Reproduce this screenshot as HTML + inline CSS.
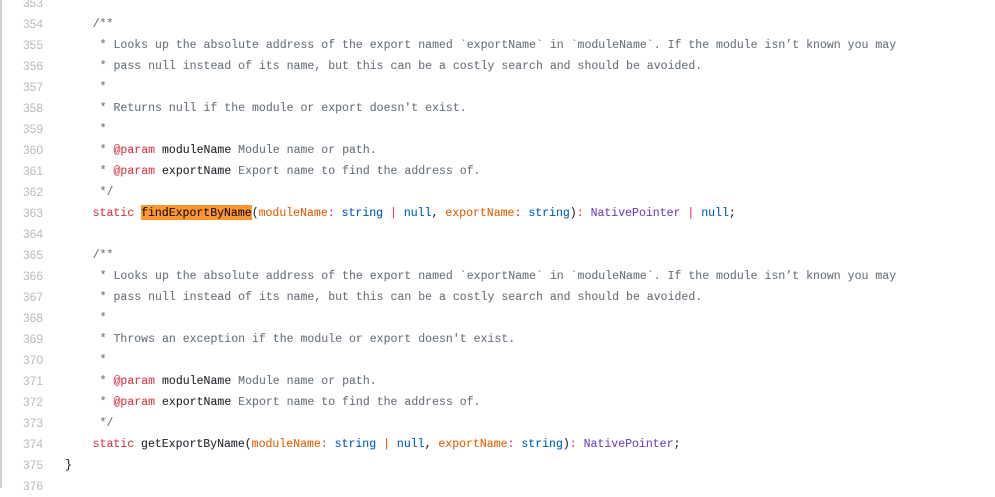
<!DOCTYPE html>
<html lang="en">
<head>
<meta charset="utf-8">
<title>Source listing</title>
<style>
html,body{margin:0;padding:0;background:#fff;}
body{width:995px;height:488px;overflow:hidden;position:relative;}
.bar{position:absolute;left:0;top:0;width:1.5px;height:488px;background:#d0d0d8;}
.n,.l{position:absolute;height:21px;line-height:21px;white-space:pre;margin-top:1px;}
.n{left:23px;font:12px/21px "Liberation Sans",sans-serif;color:#bbb;}
.l{left:65px;font:11.5px/21px "Liberation Mono",monospace;letter-spacing:.025px;color:#24292e;-webkit-text-stroke:.1px currentColor;}
.l.code{letter-spacing:.012px;}
.c{color:#6a737d}.k{color:#d73a49}.p{color:#e36209}.t{color:#005cc5}.v{color:#6f42c1}
.h{background:#ff9632;color:#111;display:inline-block;height:15px;line-height:17px;vertical-align:top;margin-top:2px;}
</style>
</head>
<body>
<div class="bar"></div>
<div class="n" style="top:-8px">353</div>
<div class="n" style="top:13px">354</div>
<div class="n" style="top:34px">355</div>
<div class="n" style="top:55px">356</div>
<div class="n" style="top:76px">357</div>
<div class="n" style="top:97px">358</div>
<div class="n" style="top:118px">359</div>
<div class="n" style="top:139px">360</div>
<div class="n" style="top:160px">361</div>
<div class="n" style="top:181px">362</div>
<div class="n" style="top:202px">363</div>
<div class="n" style="top:223px">364</div>
<div class="n" style="top:244px">365</div>
<div class="n" style="top:265px">366</div>
<div class="n" style="top:286px">367</div>
<div class="n" style="top:307px">368</div>
<div class="n" style="top:328px">369</div>
<div class="n" style="top:349px">370</div>
<div class="n" style="top:370px">371</div>
<div class="n" style="top:391px">372</div>
<div class="n" style="top:412px">373</div>
<div class="n" style="top:433px">374</div>
<div class="n" style="top:454px">375</div>
<div class="n" style="top:475px">376</div>

<div class="l c" style="top:13px">    /**</div>
<div class="l c" style="top:34px">     * Looks up the absolute address of the export named `exportName` in `moduleName`. If the module isn’t known you may</div>
<div class="l c" style="top:55px">     * pass null instead of its name, but this can be a costly search and should be avoided.</div>
<div class="l c" style="top:76px">     *</div>
<div class="l c" style="top:97px">     * Returns null if the module or export doesn't exist.</div>
<div class="l c" style="top:118px">     *</div>
<div class="l c" style="top:139px">     * <span class="k">@param</span> <span style="color:#24292e">moduleName</span> Module name or path.</div>
<div class="l c" style="top:160px">     * <span class="k">@param</span> <span style="color:#24292e">exportName</span> Export name to find the address of.</div>
<div class="l c" style="top:181px">     */</div>
<div class="l code" style="top:202px">    <span class="k">static</span> <span class="h">findExportByName</span>(<span class="p">moduleName</span><span class="k">:</span> <span class="t">string</span> <span class="k">|</span> <span class="t">null</span>, <span class="p">exportName</span><span class="k">:</span> <span class="t">string</span>)<span class="k">:</span> <span class="v">NativePointer</span> <span class="k">|</span> <span class="t">null</span>;</div>

<div class="l c" style="top:244px">    /**</div>
<div class="l c" style="top:265px">     * Looks up the absolute address of the export named `exportName` in `moduleName`. If the module isn’t known you may</div>
<div class="l c" style="top:286px">     * pass null instead of its name, but this can be a costly search and should be avoided.</div>
<div class="l c" style="top:307px">     *</div>
<div class="l c" style="top:328px">     * Throws an exception if the module or export doesn't exist.</div>
<div class="l c" style="top:349px">     *</div>
<div class="l c" style="top:370px">     * <span class="k">@param</span> <span style="color:#24292e">moduleName</span> Module name or path.</div>
<div class="l c" style="top:391px">     * <span class="k">@param</span> <span style="color:#24292e">exportName</span> Export name to find the address of.</div>
<div class="l c" style="top:412px">     */</div>
<div class="l code" style="top:433px">    <span class="k">static</span> getExportByName(<span class="p">moduleName</span><span class="k">:</span> <span class="t">string</span> <span class="p">|</span> <span class="t">null</span>, <span class="p">exportName</span><span class="k">:</span> <span class="t">string</span>)<span class="k">:</span> <span class="v">NativePointer</span>;</div>
<div class="l" style="top:454px">}</div>
</body>
</html>
